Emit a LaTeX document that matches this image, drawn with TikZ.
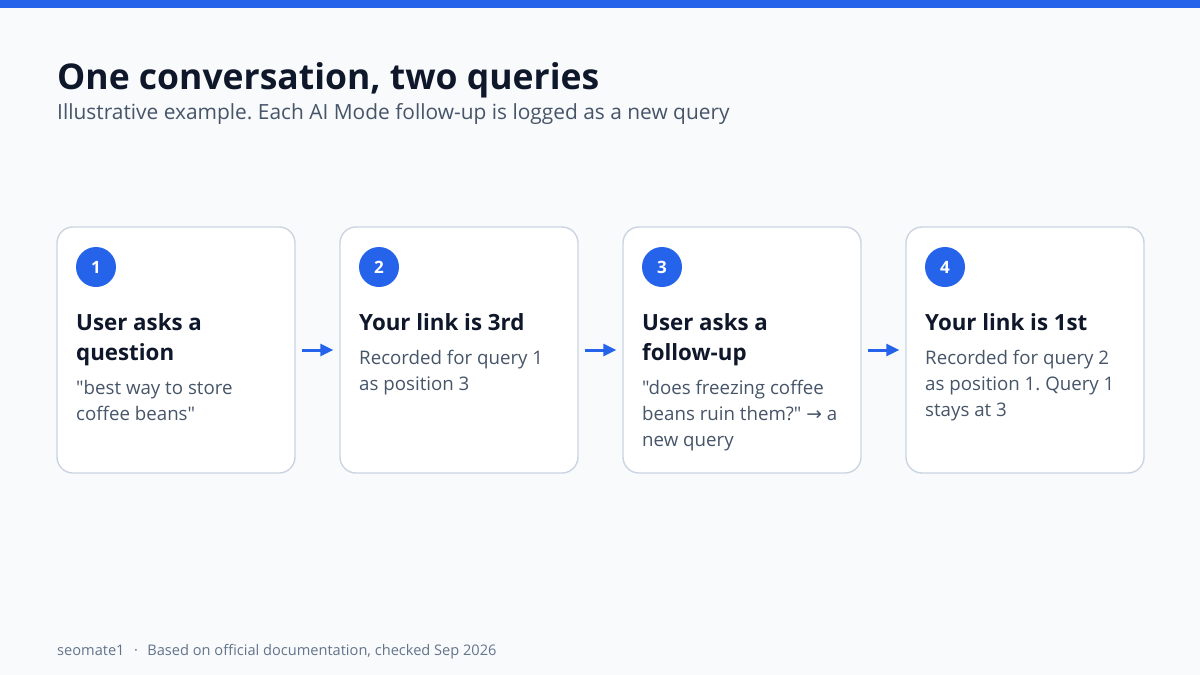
\documentclass[tikz,border=0pt]{standalone}
\usepackage{fontspec}
\setmainfont{Open Sans}[Ligatures=TeXOff]
\newfontfamily\symfont{DejaVu Sans}
\usetikzlibrary{arrows.meta}
\definecolor{brand}{HTML}{2563EB}
\definecolor{ink}{HTML}{0F172A}
\definecolor{slate}{HTML}{475569}
\definecolor{muted}{HTML}{64748B}
\definecolor{cardborder}{HTML}{CBD5E1}
\definecolor{pagebg}{HTML}{F8FAFC}
\frenchspacing
\tikzset{
  card/.style={draw=cardborder, line width=1.4pt, fill=white, rounded corners=16pt,
    minimum width=238pt, minimum height=246pt, inner sep=0pt},
  badge/.style={circle, fill=brand, minimum size=40pt, inner sep=0pt, text=white,
    font=\fontsize{17}{20}\selectfont\bfseries},
  head/.style={anchor=base west, inner sep=0pt, align=left, text=ink,
    font=\fontsize{22.3}{30}\selectfont\bfseries},
  body/.style={anchor=base west, inner sep=0pt, align=left, text=slate,
    font=\fontsize{18.7}{26}\selectfont},
  flow/.style={draw=brand, line width=3pt, shorten <=6pt, shorten >=6pt,
    -{Triangle[length=13pt,width=12pt]}},
}
\begin{document}
\begin{tikzpicture}[x=1pt,y=-1pt]
\useasboundingbox (0,0) rectangle (1200,675);
\fill[pagebg] (0,0) rectangle (1200,675);
\fill[brand] (0,0) rectangle (1200,8);
\node[anchor=base west, inner sep=0pt, text=ink, font=\fontsize{35.5}{40}\selectfont\bfseries] (title) at (57,89) {One conversation, two queries};
\node[anchor=base west, inner sep=0pt, text=slate, font=\fontsize{20.9}{24}\selectfont] (subtitle) at (57,119) {Illustrative example. Each AI Mode follow-up is logged as a new query};

% cards
\node[card] (card1) at (176,350) {};
\node[card] (card2) at (459,350) {};
\node[card] (card3) at (742,350) {};
\node[card] (card4) at (1025,350) {};

\node[badge] (b1) at (96,267) {1};
\node[badge] (b2) at (379,267) {2};
\node[badge] (b3) at (662,267) {3};
\node[badge] (b4) at (945,267) {4};

% multi-line nodes: base anchor is the last line
\node[head] (h1) at (76,360) {User asks a\\question};
\node[body] (t1) at (76,420) {"best way to store\\coffee beans"};

\node[head] (h2) at (359,330) {Your link is 3rd};
\node[body] (t2) at (359,390) {Recorded for query 1\\as position 3};

\node[head] (h3) at (642,360) {User asks a\\follow-up};
\node[body] (t3) at (642,446) {"does freezing coffee\\beans ruin them?" {\symfont→} a\\new query};

\node[head] (h4) at (925,330) {Your link is 1st};
\node[body] (t4) at (925,416) {Recorded for query 2\\as position 1. Query 1\\stays at 3};

\draw[flow] (card1) -- (card2);
\draw[flow] (card2) -- (card3);
\draw[flow] (card3) -- (card4);

\node[anchor=base west, inner sep=0pt, text=muted, font=\fontsize{14.6}{16}\selectfont] (footer) at (57,655) {seomate1\hspace{0.65em}·\hspace{0.65em}Based on official documentation, checked Sep 2026};
\end{tikzpicture}
\end{document}
